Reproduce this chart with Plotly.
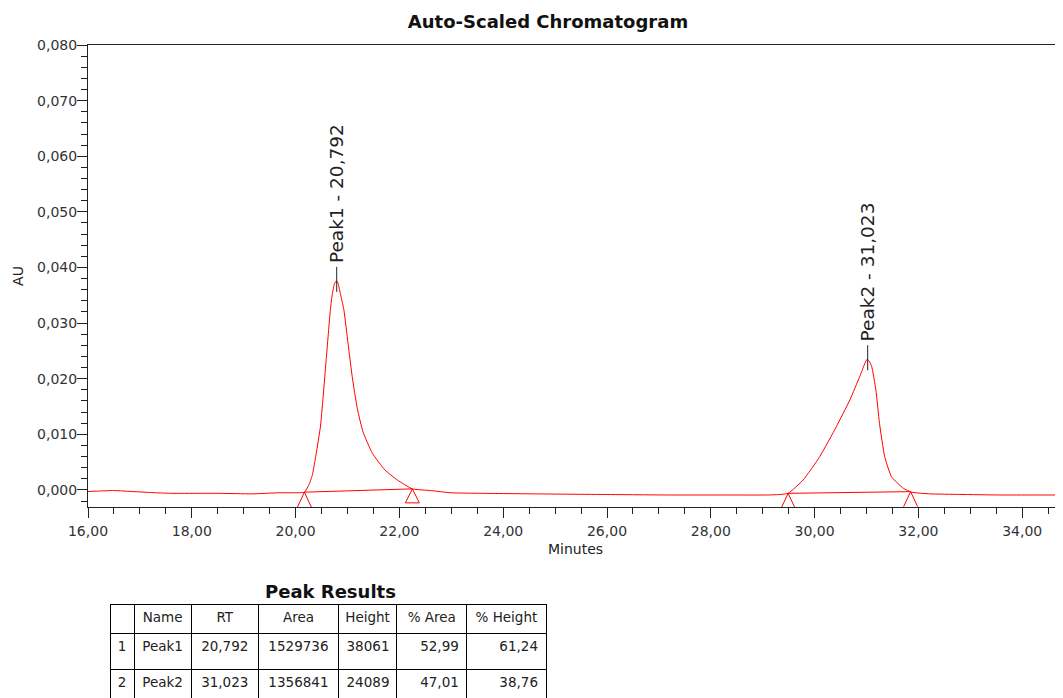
import plotly.graph_objects as go

# ---- chromatogram trace (minutes, AU) ----
time_min = [15.94, 16.2, 16.49, 16.9, 17.3, 17.62, 18.1, 18.52, 19.16, 19.67, 20.05,
            20.17, 20.25, 20.32, 20.38, 20.48, 20.59, 20.67, 20.71, 20.75, 20.79, 20.82,
            20.86, 20.93, 21.01, 21.09, 21.19, 21.30, 21.48, 21.72, 21.96, 22.25, 22.6,
            22.99, 23.6, 24.6, 25.8, 27.17, 28.2, 29.1, 29.35, 29.49, 29.78, 30.10,
            30.42, 30.68, 30.87, 30.97, 31.01, 31.05, 31.10, 31.18, 31.25, 31.35, 31.48,
            31.71, 31.87, 32.22, 32.8, 33.57, 34.2, 34.8]
absorbance = [-0.0003, -0.0002, -0.0001, -0.0003, -0.0005, -0.0006, -0.0006, -0.0006,
              -0.0007, -0.0005, -0.0005, -0.0004, 0.0008, 0.0026, 0.0056, 0.0115,
              0.0235, 0.0324, 0.0354, 0.0371, 0.0376, 0.0371, 0.0354, 0.0324, 0.0264,
              0.0204, 0.0146, 0.0104, 0.0066, 0.0036, 0.0018, 0.0002, -0.0001, -0.0005,
              -0.0006, -0.0007, -0.0008, -0.0009, -0.0009, -0.0009, -0.0008, -0.0006,
              0.0018, 0.0060, 0.0114, 0.0162, 0.0204, 0.0228, 0.0235, 0.0232, 0.0222,
              0.0180, 0.0120, 0.0060, 0.0024, 0.0003, -0.0004, -0.0007, -0.0008,
              -0.0009, -0.0009, -0.0009]

# ---- peak integration events ----
peak_names = ["Peak1", "Peak2"]
peak_rt = [20.792, 31.023]
peak_apex = [0.0376, 0.0235]
peak_start_t = [20.17, 29.49]
peak_start_v = [-0.0004, -0.0006]
peak_end_t = [22.25, 31.85]
peak_end_v = [0.0002, -0.0003]
end_marker_closed = [True, False]

# ---- results table ----
tbl_headers = ["", "Name", "RT", "Area", "Height", "%\u00a0Area", "%\u00a0Height"]
tbl_index = ["1", "2"]
tbl_name = ["Peak1", "Peak2"]
tbl_rt = ["20,792", "31,023"]
tbl_area = ["1529736", "1356841"]
tbl_height = ["38061", "24089"]
tbl_pct_area = ["52,99", "47,01"]
tbl_pct_height = ["61,24", "38,76"]

RED = "#ff0000"
FONT = "DejaVu Sans"
OFF = 8                      # page offset of the figure (default body margin)
W, H = 1063 - OFF, 698 - OFF


def fx(px):
    return (px - OFF) / W


def fy(py):
    return 1 - (py - OFF) / H


fig = go.Figure()

fig.add_trace(go.Scatter(
    x=time_min, y=absorbance, mode="lines",
    line=dict(color=RED, width=1, shape="spline", smoothing=0.45),
    hoverinfo="skip"))

# integration baselines
for i in range(len(peak_rt)):
    fig.add_trace(go.Scatter(
        x=[peak_start_t[i], peak_end_t[i]], y=[peak_start_v[i], peak_end_v[i]],
        mode="lines", line=dict(color=RED, width=1), hoverinfo="skip"))

shapes = []
open_mark = "M-7,-15 L0,0 L7,-15"
closed_mark = "M-7,-14 L0,0 L7,-14 Z"
for i in range(len(peak_rt)):
    for t, v, closed in ((peak_start_t[i], peak_start_v[i], False),
                         (peak_end_t[i], peak_end_v[i], end_marker_closed[i])):
        shapes.append(dict(type="path", xref="x", yref="y",
                           xsizemode="pixel", ysizemode="pixel",
                           xanchor=t, yanchor=v,
                           path=closed_mark if closed else open_mark,
                           line=dict(color=RED, width=1)))
    # label tick line at apex
    shapes.append(dict(type="line", xref="x", yref="y",
                       x0=peak_rt[i], x1=peak_rt[i],
                       ysizemode="pixel", yanchor=peak_apex[i], y0=-11, y1=14,
                       line=dict(color="#222222", width=1)))

annotations = []
for i in range(len(peak_rt)):
    rt_txt = f"{peak_rt[i]:.3f}".replace(".", ",")
    annotations.append(dict(
        x=peak_rt[i], y=peak_apex[i], xref="x", yref="y",
        text=f"{peak_names[i]} - {rt_txt}", textangle=-90,
        showarrow=False, xanchor="center", yanchor="bottom", yshift=16,
        font=dict(family=FONT, size=18.5, color="#222222")))

annotations.append(dict(
    x=fx(330), y=fy(591), xref="paper", yref="paper",
    text="<b>Peak Results</b>", showarrow=False,
    xanchor="center", yanchor="middle",
    font=dict(family=FONT, size=18, color="#111111")))

fig.add_trace(go.Table(
    domain=dict(x=[fx(110), fx(546)], y=[0, fy(604)]),
    columnwidth=[24, 57, 67, 80, 58, 70, 79],
    header=dict(values=tbl_headers, align="center", height=29,
                line=dict(color="#000000", width=1),
                fill=dict(color="white"),
                font=dict(family=FONT, size=13.5, color="#222222")),
    cells=dict(values=[tbl_index, tbl_name, tbl_rt, tbl_area, tbl_height,
                       tbl_pct_area, tbl_pct_height],
               align=["center", "center", "center", "center", "left", "right", "right"],
               height=36,
               line=dict(color="#000000", width=1),
               fill=dict(color="white"),
               font=dict(family=FONT, size=13.5, color="#222222"))))

fig.update_layout(
    width=W, height=H,
    paper_bgcolor="white", plot_bgcolor="white",
    separators=",.",
    showlegend=False,
    margin=dict(l=0, r=0, t=0, b=0, autoexpand=False),
    title=dict(text="<b>Auto-Scaled Chromatogram</b>", x=fx(548), xanchor="center",
               y=fy(22), yanchor="middle", yref="container", automargin=False,
               font=dict(family=FONT, size=18, color="#111111")),
    shapes=shapes,
    annotations=annotations,
    xaxis=dict(domain=[fx(88), 1], range=[16, 34.786], dtick=2, tick0=16,
               tickformat=".2f", automargin=False,
               showgrid=False, zeroline=False,
               showline=True, linecolor="#222222", linewidth=1, mirror=True,
               ticks="outside", ticklen=10, tickcolor="#222222",
               ticklabelstandoff=1,
               minor=dict(dtick=0.5, ticks="outside", ticklen=6, tickcolor="#222222"),
               tickfont=dict(family=FONT, size=14, color="#333333"),
               title=dict(text="Minutes", standoff=6,
                          font=dict(family=FONT, size=14, color="#222222"))),
    yaxis=dict(domain=[fy(507), fy(45)], range=[-0.00306, 0.080],
               dtick=0.01, tick0=0, tickformat=".3f", automargin=False,
               showgrid=False, zeroline=False,
               showline=True, linecolor="#222222", linewidth=1,
               ticks="outside", ticklen=10, tickcolor="#222222",
               ticklabelstandoff=-3,
               minor=dict(dtick=0.002, ticks="outside", ticklen=6, tickcolor="#222222"),
               tickfont=dict(family=FONT, size=14, color="#333333"),
               title=dict(text="AU", standoff=10,
                          font=dict(family=FONT, size=14, color="#222222"))),
)

fig.write_html("out.html")
